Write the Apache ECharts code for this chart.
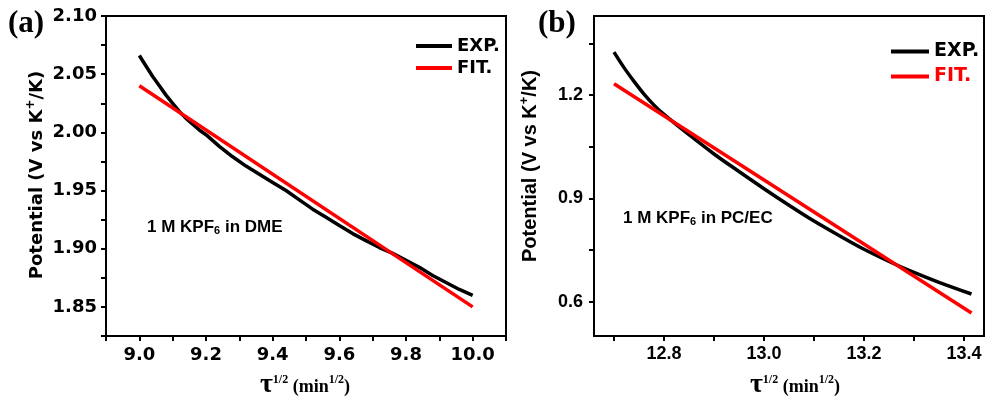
<!DOCTYPE html>
<html>
<head>
<meta charset="utf-8">
<script src="https://cdn.jsdelivr.net/npm/echarts@6.0.0/dist/echarts.min.js"></script>
<style>
  html, body { margin: 0; padding: 0; background: #fff; }
  #chart { width: 985px; height: 398px; }
</style>
</head>
<body>
<div id="chart"></div>
<script>
// ---- panel (a): 1 M KPF6 in DME ----
const EXP_A_X = [9.00, 9.02, 9.04, 9.06, 9.08, 9.10, 9.12, 9.14, 9.16, 9.18, 9.20, 9.24, 9.28, 9.32, 9.36,
  9.40, 9.44, 9.48, 9.52, 9.56, 9.60, 9.64, 9.68, 9.72, 9.76, 9.80, 9.84, 9.88, 9.92, 9.96, 10.00];
const EXP_A_Y = [2.066, 2.057, 2.048, 2.040, 2.032, 2.025, 2.018, 2.012, 2.007, 2.002, 1.998, 1.988, 1.979, 1.971, 1.964,
  1.957, 1.950, 1.942, 1.934, 1.927, 1.920, 1.913, 1.907, 1.901, 1.896, 1.890, 1.884, 1.877, 1.871, 1.865, 1.860];
const FIT_A_X = [9.00, 10.00];
const FIT_A_Y = [2.040, 1.850];

// ---- panel (b): 1 M KPF6 in PC/EC ----
const EXP_B_X = [12.70, 12.72, 12.74, 12.76, 12.78, 12.80, 12.85, 12.90, 12.95, 13.00, 13.05,
  13.10, 13.15, 13.20, 13.26, 13.30, 13.35, 13.415];
const EXP_B_Y = [1.325, 1.280, 1.240, 1.203, 1.171, 1.144, 1.085, 1.029, 0.978, 0.928, 0.880,
  0.834, 0.792, 0.752, 0.710, 0.685, 0.656, 0.622];
const FIT_B_X = [12.70, 13.415];
const FIT_B_Y = [1.233, 0.567];

// ---- ticks / labels ----
const TICKS_A_X = [8.9, 9.0, 9.1, 9.2, 9.3, 9.4, 9.5, 9.6, 9.7, 9.8, 9.9, 10.0, 10.1];
const LABELS_A_X = [9.0, 9.2, 9.4, 9.6, 9.8, 10.0];
const TICKS_A_Y = [1.825, 1.85, 1.875, 1.90, 1.925, 1.95, 1.975, 2.00, 2.025, 2.05, 2.075, 2.10];
const LABELS_A_Y = [1.85, 1.90, 1.95, 2.00, 2.05, 2.10];
const TICKS_B_X = [12.7, 12.8, 12.9, 13.0, 13.1, 13.2, 13.3, 13.4];
const LABELS_B_X = [12.8, 13.0, 13.2, 13.4];
const TICKS_B_Y = [0.6, 0.75, 0.9, 1.05, 1.2, 1.35];
const LABELS_B_Y = [0.6, 0.9, 1.2];

const zip = (xs, ys) => xs.map((x, i) => [x, ys[i]]);

const BLACK = '#000';
const RED = '#ff0000';
const SANS_A = 'DejaVu Sans';
const SANS_B = 'Liberation Sans';
const SERIF = 'Liberation Serif';

function valueAxis(grid, min, max, ticks, labels, digits, font, size, margin) {
  return {
    type: 'value',
    gridIndex: grid,
    min: min,
    max: max,
    splitLine: { show: false },
    axisLine: { show: true, onZero: false, lineStyle: { color: BLACK, width: 2 } },
    axisTick: {
      show: true, inside: false, length: 5, customValues: ticks,
      lineStyle: { color: BLACK, width: 2 },
    },
    axisLabel: {
      customValues: labels,
      formatter: (v) => Number(v).toFixed(digits),
      color: BLACK,
      fontFamily: font,
      fontWeight: 'bold',
      fontSize: size,
      margin: margin,
    },
  };
}

const chart = echarts.init(document.getElementById('chart'), null, { renderer: 'canvas' });

const supStyle = (size, raise, family) => ({
  fontFamily: family, fontWeight: 'bold', fontSize: size, padding: [0, 0, raise, 0], fill: BLACK,
});

const xTitle = (cx) => ({
  type: 'text', x: cx, y: 385,
  style: {
    text: '{t|τ}{s|1/2}{m| (min}{s|1/2}{m|)}', align: 'center', verticalAlign: 'middle',
    rich: {
      t: { fontFamily: SERIF, fontWeight: 'bold', fontSize: 28, fill: BLACK },
      m: { fontFamily: SERIF, fontWeight: 'bold', fontSize: 18, padding: [4, 0, 0, 0], fill: BLACK },
      s: supStyle(12, 10, SERIF),
    },
  },
});

chart.setOption({
  backgroundColor: '#fff',
  animation: false,
  grid: [
    { left: 106, top: 16, width: 400, height: 320, show: true, borderColor: BLACK, borderWidth: 2, backgroundColor: 'transparent' },
    { left: 594, top: 16, width: 390, height: 320, show: true, borderColor: BLACK, borderWidth: 2, backgroundColor: 'transparent' },
  ],
  xAxis: [
    valueAxis(0, 8.9, 10.1, TICKS_A_X, LABELS_A_X, 1, SANS_A, 18, 10),
    valueAxis(1, 12.66, 13.44, TICKS_B_X, LABELS_B_X, 1, SANS_B, 18, 9),
  ],
  yAxis: [
    valueAxis(0, 1.825, 2.10, TICKS_A_Y, LABELS_A_Y, 2, SANS_A, 18, 9),
    valueAxis(1, 0.5, 1.43, TICKS_B_Y, LABELS_B_Y, 1, SANS_B, 18, 11),
  ],
  legend: [
    {
      left: 411, top: 32, orient: 'vertical', icon: 'rect', itemWidth: 36, itemHeight: 4, itemGap: 4,
      data: ['EXP.', 'FIT.'],
      textStyle: { color: BLACK, fontFamily: SANS_A, fontWeight: 'bold', fontSize: 18 },
    },
    {
      left: 886, top: 37, orient: 'vertical', icon: 'rect', itemWidth: 38, itemHeight: 4, itemGap: 6,
      data: [{ name: 'EXP.' }, { name: 'FIT.', textStyle: { color: RED } }],
      textStyle: { color: BLACK, fontFamily: SANS_A, fontWeight: 'bold', fontSize: 19 },
    },
  ],
  series: [
    {
      name: 'EXP.', type: 'line', xAxisIndex: 0, yAxisIndex: 0, data: zip(EXP_A_X, EXP_A_Y),
      symbol: 'none', lineStyle: { color: BLACK, width: 3.5 }, itemStyle: { color: BLACK }, z: 2,
    },
    {
      name: 'FIT.', type: 'line', xAxisIndex: 0, yAxisIndex: 0, data: zip(FIT_A_X, FIT_A_Y),
      symbol: 'none', lineStyle: { color: RED, width: 3.5 }, itemStyle: { color: RED }, z: 3,
    },
    {
      name: 'EXP.', type: 'line', xAxisIndex: 1, yAxisIndex: 1, data: zip(EXP_B_X, EXP_B_Y),
      smooth: 0.3, symbol: 'none', lineStyle: { color: BLACK, width: 3.5 }, itemStyle: { color: BLACK }, z: 2,
    },
    {
      name: 'FIT.', type: 'line', xAxisIndex: 1, yAxisIndex: 1, data: zip(FIT_B_X, FIT_B_Y),
      symbol: 'none', lineStyle: { color: RED, width: 3.5 }, itemStyle: { color: RED }, z: 3,
    },
  ],
  graphic: [
    // panel letters
    { type: 'text', x: 8, y: 24, style: { text: '(a)', font: 'bold 31px "Liberation Serif"', fill: BLACK, verticalAlign: 'middle' } },
    { type: 'text', x: 538, y: 24, style: { text: '(b)', font: 'bold 31px "Liberation Serif"', fill: BLACK, verticalAlign: 'middle' } },
    // y titles
    {
      type: 'text', x: 37, y: 175, rotation: Math.PI / 2,
      style: {
        text: '{m|Potential (V vs K}{s|+}{m|/K)}', align: 'center', verticalAlign: 'middle',
        rich: {
          m: { fontFamily: SANS_A, fontWeight: 'bold', fontSize: 18, fill: BLACK },
          s: supStyle(12, 12, SANS_A),
        },
      },
    },
    {
      type: 'text', x: 530, y: 166, rotation: Math.PI / 2,
      style: {
        text: '{m|Potential (V vs K}{s|+}{m|/K)}', align: 'center', verticalAlign: 'middle',
        rich: {
          m: { fontFamily: SANS_B, fontWeight: 'bold', fontSize: 20, fill: BLACK },
          s: supStyle(13, 12, SANS_B),
        },
      },
    },
    // x titles
    xTitle(305),
    xTitle(795),
    // annotations
    {
      type: 'text', x: 147, y: 227,
      style: {
        text: '{m|1 M KPF}{d|6}{m| in DME}', verticalAlign: 'middle',
        rich: {
          m: { fontFamily: SANS_B, fontWeight: 'bold', fontSize: 17, fill: BLACK },
          d: { fontFamily: SANS_B, fontWeight: 'bold', fontSize: 11, padding: [8, 0, 0, 0], fill: BLACK },
        },
      },
    },
    {
      type: 'text', x: 623, y: 218,
      style: {
        text: '{m|1 M KPF}{d|6}{m| in PC/EC}', verticalAlign: 'middle',
        rich: {
          m: { fontFamily: SANS_B, fontWeight: 'bold', fontSize: 17, fill: BLACK },
          d: { fontFamily: SANS_B, fontWeight: 'bold', fontSize: 11, padding: [8, 0, 0, 0], fill: BLACK },
        },
      },
    },
  ],
});
</script>
</body>
</html>
